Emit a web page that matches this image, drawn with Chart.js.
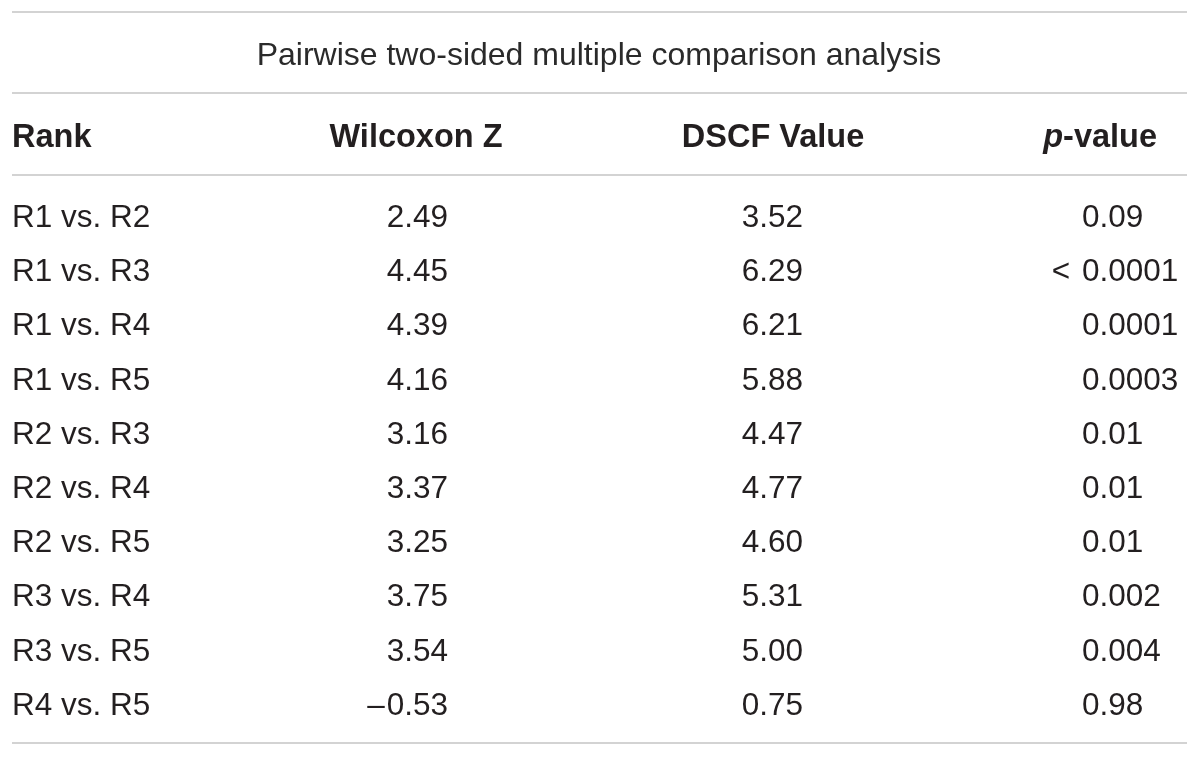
<!DOCTYPE html>
<html>
<head>
<meta charset="utf-8">
<script src="https://cdn.jsdelivr.net/npm/chart.js@4.4.1/dist/chart.umd.min.js"></script>
<style>
  html, body { margin: 0; padding: 0; background: #ffffff; }
  #wrap { position: relative; width: 1200px; height: 757px; }
</style>
</head>
<body>
<div id="wrap"><canvas id="tabla"></canvas></div>
<script>
// datos de la tabla
const tableTitle = "Pairwise two-sided multiple comparison analysis";
const headers = ["Rank", "Wilcoxon Z", "DSCF Value", "p-value"];
const ranks = ["R1 vs. R2", "R1 vs. R3", "R1 vs. R4", "R1 vs. R5", "R2 vs. R3",
               "R2 vs. R4", "R2 vs. R5", "R3 vs. R4", "R3 vs. R5", "R4 vs. R5"];
const wilcoxonZ = [2.49, 4.45, 4.39, 4.16, 3.16, 3.37, 3.25, 3.75, 3.54, -0.53];
const dscfValues = [3.52, 6.29, 6.21, 5.88, 4.47, 4.77, 4.60, 5.31, 5.00, 0.75];
const pValues = ["0.09", "< 0.0001", "0.0001", "0.0003", "0.01",
                 "0.01", "0.01", "0.002", "0.004", "0.98"];

// posiciones (unidades de la escala = pixeles del lienzo)
const layout = {
  ruleLeft: 12, ruleRight: 1187,
  rules: [12, 93, 175, 743],
  titleX: 599, titleY: 65,
  headerY: 147,
  firstRowY: 227, rowStep: 54.2,
  rankX: 12,
  wilcoxonHeadX: 416, wilcoxonX: 448,
  dscfHeadX: 773, dscfX: 803,
  pHeadRight: 1157, pX: 1082
};

const fuente = '"Liberation Sans", Arial, Helvetica, sans-serif';
const colorTexto = "#231f20";

// lineas horizontales como datasets
const reglas = layout.rules.map(y => ({
  type: "line",
  data: [{x: layout.ruleLeft, y: y}, {x: layout.ruleRight, y: y}],
  borderColor: "#d3d3d3",
  borderWidth: 2,
  pointRadius: 0,
  fill: false
}));

const textoTabla = {
  id: "textoTabla",
  afterDatasetsDraw(chart) {
    const ctx = chart.ctx;
    const sx = chart.scales.x, sy = chart.scales.y;
    const X = v => sx.getPixelForValue(v);
    const Y = v => sy.getPixelForValue(v);
    ctx.save();
    ctx.textBaseline = "alphabetic";

    // titulo
    ctx.font = "32px " + fuente;
    ctx.fillStyle = "#2a2a2a";
    ctx.textAlign = "center";
    ctx.fillText(tableTitle, X(layout.titleX), Y(layout.titleY));

    // encabezados
    ctx.fillStyle = colorTexto;
    ctx.font = "bold 32.5px " + fuente;
    ctx.textAlign = "left";
    ctx.fillText(headers[0], X(layout.rankX), Y(layout.headerY));
    ctx.textAlign = "center";
    ctx.fillText(headers[1], X(layout.wilcoxonHeadX), Y(layout.headerY));
    ctx.fillText(headers[2], X(layout.dscfHeadX), Y(layout.headerY));
    // p-value: "p" en cursiva
    const resto = headers[3].slice(1);
    ctx.textAlign = "right";
    ctx.fillText(resto, X(layout.pHeadRight), Y(layout.headerY));
    const wResto = ctx.measureText(resto).width;
    ctx.font = "italic bold 32.5px " + fuente;
    ctx.fillText(headers[3][0], X(layout.pHeadRight) - wResto, Y(layout.headerY));

    // filas
    ctx.font = "31.5px " + fuente;
    ranks.forEach((r, i) => {
      const y = Y(layout.firstRowY + layout.rowStep * i);
      ctx.textAlign = "left";
      ctx.fillText(r, X(layout.rankX), y);

      // Wilcoxon Z, signo menos un poco separado del numero
      const z = wilcoxonZ[i];
      const zTxt = Math.abs(z).toFixed(2);
      ctx.textAlign = "right";
      ctx.fillText(zTxt, X(layout.wilcoxonX), y);
      if (z < 0) {
        const wz = ctx.measureText(zTxt).width;
        ctx.fillText("\u2013", X(layout.wilcoxonX) - wz - 2, y);
      }

      ctx.fillText(dscfValues[i].toFixed(2), X(layout.dscfX), y);

      // alinear p-values por el "0."
      const p = pValues[i];
      const k = p.indexOf("0");
      ctx.textAlign = "left";
      ctx.fillText(p.slice(k), X(layout.pX), y);
      if (k > 0) {
        ctx.textAlign = "right";
        ctx.fillText(p.slice(0, k), X(layout.pX) - 3, y);
      }
    });
    ctx.restore();
  }
};

let miCanvas = document.getElementById("tabla").getContext("2d");

var chart = new Chart(miCanvas, {
  type: "scatter",
  data: { datasets: reglas },
  options: {
    responsive: true,
    maintainAspectRatio: false,
    animation: false,
    events: [],
    layout: { padding: 0 },
    plugins: { legend: { display: false }, tooltip: { enabled: false } },
    scales: {
      x: { type: "linear", min: 0, max: 1200, display: false },
      y: { type: "linear", min: 0, max: 757, reverse: true, display: false }
    }
  },
  plugins: [textoTabla]
});
</script>
</body>
</html>
